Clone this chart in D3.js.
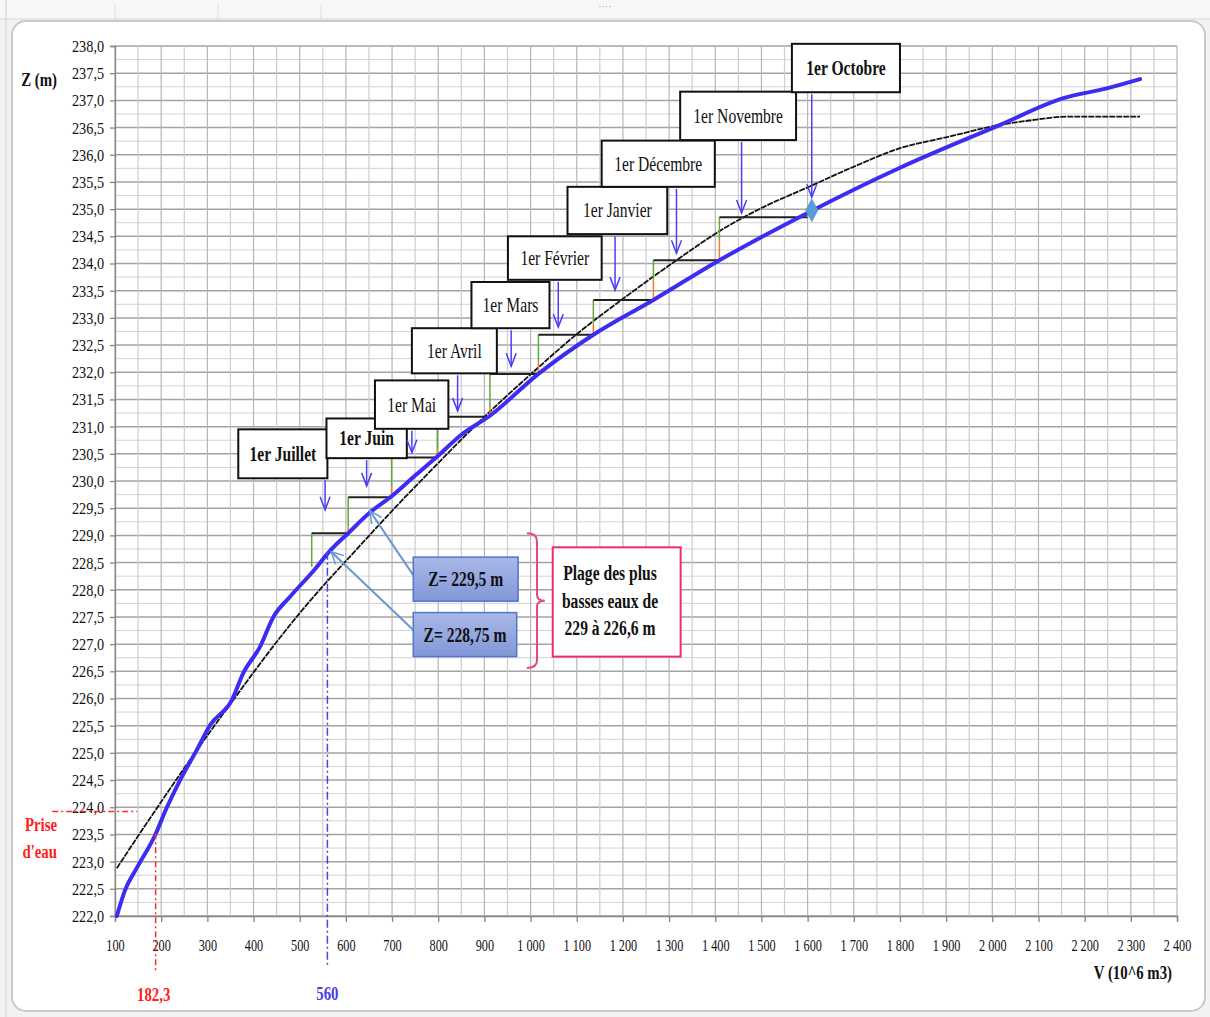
<!DOCTYPE html>
<html>
<head>
<meta charset="utf-8">
<script src="https://cdn.jsdelivr.net/npm/d3@7"></script>
<style>
  body { margin: 0; background: #f2f2f2; }
  svg { display: block; font-family: "Liberation Serif", "Times New Roman", serif; }
</style>
</head>
<body>
<svg id="chart" width="1210" height="1017"></svg>
<script>
// -----------------------
// Data
// -----------------------
// Courbe hauteur-volume (blue, thick)
const blueV = [104, 122, 147, 187, 212, 241, 277, 306, 353, 378, 414, 443, 479, 530, 566, 605, 652, 699, 750, 798, 850, 912, 1017, 1136, 1266, 1409, 1600, 1800, 2017, 2154, 2248, 2320];
const blueZ = [222.0, 222.48, 222.88, 223.49, 223.99, 224.5, 225.05, 225.51, 225.97, 226.47, 226.95, 227.5, 227.87, 228.35, 228.72, 229.04, 229.42, 229.72, 230.1, 230.45, 230.85, 231.2, 231.97, 232.69, 233.33, 234.06, 234.93, 235.76, 236.55, 237.04, 237.22, 237.39];

// Fitted curve (black, thin)
const blackV = [104, 150, 200, 250, 300, 356, 400, 450, 500, 558, 610, 700, 800, 900, 1000, 1100, 1200, 1316, 1410, 1500, 1600, 1700, 1800, 1900, 2017, 2090, 2160, 2320];
const blackZ = [222.88, 223.47, 224.1, 224.72, 225.32, 225.97, 226.48, 227.04, 227.57, 228.14, 228.62, 229.45, 230.33, 231.18, 231.96, 232.7, 233.35, 234.06, 234.6, 235.02, 235.4, 235.78, 236.12, 236.32, 236.55, 236.64, 236.7, 236.7];

// Monthly filling staircase
const stepV = [526, 605, 699, 798, 912, 1017, 1136, 1266, 1409, 1600];
const stepZ = [229.04, 229.70, 230.43, 231.18, 231.97, 232.69, 233.33, 234.06, 234.85];
const orangeDZ = [0.12, 0.2, 0.16, 0.18, 0.22, 0.21, 0.37, 0.37, 0.13];
const stepStartZ = 228.42;

const months = ["1er Juillet", "1er Juin", "1er Mai", "1er Avril", "1er Mars", "1er Février", "1er Janvier", "1er Décembre", "1er Novembre", "1er Octobre"];
const arrowV = [555, 645, 743, 842, 958, 1060, 1183, 1316, 1457, 1609];
const arrowTipZ = [229.47, 229.91, 230.52, 231.29, 232.11, 232.83, 233.51, 234.19, 234.93, 235.22];

const octobrePoint = [1609, 234.98];
const priseV = 182.3, priseZ = 223.92;
const lowV = 560;

const xTicks = d3.range(100, 2401, 100);
const yTicks = d3.range(222, 238.01, 0.5);

// Annotation boxes (data units)
const monthBoxes = [
  { v0: 367, v1: 560, zTop: 230.95, zBot: 230.05, bold: true },
  { v0: 558, v1: 732, zTop: 231.15, zBot: 230.42, bold: true },
  { v0: 663, v1: 822, zTop: 231.85, zBot: 230.96, bold: false },
  { v0: 743, v1: 927, zTop: 232.81, zBot: 231.98, bold: false },
  { v0: 872, v1: 1041, zTop: 233.66, zBot: 232.81, bold: false },
  { v0: 951, v1: 1154, zTop: 234.50, zBot: 233.70, bold: false },
  { v0: 1080, v1: 1296, zTop: 235.41, zBot: 234.54, bold: false },
  { v0: 1154, v1: 1399, zTop: 236.26, zBot: 235.41, bold: false },
  { v0: 1324, v1: 1575, zTop: 237.16, zBot: 236.27, bold: false },
  { v0: 1566, v1: 1800, zTop: 238.04, zBot: 237.15, bold: true }
];
const callouts = [
  { label: "Z= 229,5 m", v0: 746, v1: 973, zTop: 228.6, zBot: 227.79, fromZ: 228.27, tipV: 652, tipZ: 229.45 },
  { label: "Z= 228,75 m", v0: 746, v1: 970, zTop: 227.58, zBot: 226.77, fromZ: 227.26, tipV: 568, tipZ: 228.7 }
];
const plageLines = ["Plage des plus", "basses eaux de", "229 à 226,6 m"];

// -----------------------
// Setup
// -----------------------
const svg = d3.select("#chart");
const x = d3.scaleLinear().domain([100, 2400]).range([115, 1177]);
const y = d3.scaleLinear().domain([222, 238]).range([916, 46]);
const loc = d3.formatLocale({ decimal: ",", thousands: "\u00a0", grouping: [3], currency: ["", ""] });

function addText(parent, px, py, str, o = {}) {
  return parent.append("text")
    .attr("transform", `translate(${px},${py}) scale(${o.sx || 0.78},1)`)
    .attr("text-anchor", o.anchor || "middle")
    .attr("font-size", o.size || 20)
    .attr("font-weight", o.weight || "normal")
    .attr("fill", o.fill || "#111")
    .text(str);
}

// sheet background + chart frame
svg.append("rect").attr("width", 1210).attr("height", 20).attr("fill", "#f7f7f7");
svg.append("line").attr("x1", 0).attr("x2", 1210).attr("y1", 19).attr("y2", 19).attr("stroke", "#d6d6d6");
[115, 218, 321].forEach(px => svg.append("line").attr("x1", px).attr("x2", px).attr("y1", 4).attr("y2", 19).attr("stroke", "#dedede"));
svg.append("line").attr("x1", 6).attr("x2", 6).attr("y1", 0).attr("y2", 1017).attr("stroke", "#cfcfcf");
addText(svg, 605, 10, "····", { size: 10, fill: "#999", sx: 1 });
svg.append("rect").attr("x", 12).attr("y", 21).attr("width", 1193).attr("height", 990)
  .attr("rx", 14).attr("fill", "#fff").attr("stroke", "#c9c9c9").attr("stroke-width", 2);

// grid
const grid = svg.append("g");
d3.range(222, 238.01, 0.25).forEach(z => {
  const major = Math.abs(z * 2 - Math.round(z * 2)) < 1e-6;
  grid.append("line").attr("x1", x(100)).attr("x2", x(2400)).attr("y1", y(z)).attr("y2", y(z))
    .attr("stroke", major ? "#a3a3a3" : "#d3d3d3").attr("stroke-width", major ? 1.5 : 1);
});
d3.range(100, 2401, 50).forEach(v => {
  grid.append("line").attr("x1", x(v)).attr("x2", x(v)).attr("y1", y(222)).attr("y2", y(238))
    .attr("stroke", v % 100 === 0 ? "#b5b5b5" : "#cdcdcd").attr("stroke-width", 1.2);
});

// axes
const xAxis = svg.append("g").attr("transform", `translate(0,${y(222)})`)
  .call(d3.axisBottom(x).tickValues(xTicks).tickSize(6).tickFormat(loc.format(",d")));
xAxis.selectAll("text").attr("font-size", 17.5).attr("font-family", "Liberation Serif").attr("fill", "#111")
  .attr("y", 35).attr("dy", 0).attr("transform", "scale(0.7,1)");
const yAxis = svg.append("g").attr("transform", `translate(${x(100)},0)`)
  .call(d3.axisLeft(y).tickValues(yTicks).tickSize(5).tickFormat(loc.format(".1f")));
yAxis.selectAll("text").attr("font-size", 17).attr("font-family", "Liberation Serif").attr("fill", "#111")
  .attr("x", -13).attr("transform", "scale(0.84,1)");
svg.selectAll(".domain, .tick line").attr("stroke", "#858585").attr("stroke-width", 1.3);

addText(svg, 57, 86, "Z (m)", { size: 19, weight: "bold", anchor: "end" });
addText(svg, 1172, 979, "V (10^6 m3)", { size: 19, weight: "bold", anchor: "end" });

// curves
const line = d3.line().x(d => x(d[0])).y(d => y(d[1])).curve(d3.curveMonotoneX);
svg.append("path").datum(blackV.map((v, i) => [v, blackZ[i]]))
  .attr("d", line).attr("fill", "none").attr("stroke", "#111").attr("stroke-width", 1.8)
  .attr("stroke-dasharray", "6,1");

// staircase
const steps = svg.append("g");
steps.append("line").attr("x1", x(stepV[0])).attr("x2", x(stepV[0]))
  .attr("y1", y(stepStartZ)).attr("y2", y(stepZ[0])).attr("stroke", "#62a83a").attr("stroke-width", 1.5);
stepZ.forEach((z, i) => {
  steps.append("line").attr("x1", x(stepV[i])).attr("x2", x(stepV[i + 1]))
    .attr("y1", y(z)).attr("y2", y(z)).attr("stroke", "#222").attr("stroke-width", 2);
  const vx = x(stepV[i + 1]);
  const top = i + 1 < stepZ.length ? stepZ[i + 1] : null;
  if (top !== null) {
    steps.append("line").attr("x1", vx).attr("x2", vx).attr("y1", y(z + orangeDZ[i])).attr("y2", y(top))
      .attr("stroke", "#62a83a").attr("stroke-width", 1.5);
  }
  steps.append("line").attr("x1", vx).attr("x2", vx).attr("y1", y(z)).attr("y2", y(z + orangeDZ[i]))
    .attr("stroke", "#f07d2c").attr("stroke-width", 1.5);
});

svg.append("path").datum(blueV.map((v, i) => [v, blueZ[i]]))
  .attr("d", line).attr("fill", "none").attr("stroke", "#3d2cf2").attr("stroke-width", 4)
  .attr("stroke-linejoin", "round").attr("stroke-linecap", "round");

svg.append("path")
  .attr("transform", `translate(${x(octobrePoint[0])},${y(octobrePoint[1])})`)
  .attr("d", "M0,-12L6.5,0L0,12L-6.5,0Z").attr("fill", "#5b9bd5");

// markers
const defs = svg.append("defs");
function marker(id, color, len, half) {
  defs.append("marker").attr("id", id).attr("markerUnits", "userSpaceOnUse")
    .attr("viewBox", `${-len - 2} ${-half - 2} ${len + 4} ${2 * half + 4}`)
    .attr("markerWidth", len + 4).attr("markerHeight", 2 * half + 4).attr("refX", 0).attr("refY", 0)
    .attr("orient", "auto")
    .append("path").attr("d", `M${-len},${-half}L0,0L${-len},${half}`)
    .attr("fill", "none").attr("stroke", color).attr("stroke-width", 1.5);
}
marker("arrMonth", "#4c3ef4", 13, 5);
marker("arrCall", "#6d95d6", 12, 6);
const grad = defs.append("linearGradient").attr("id", "callGrad").attr("x1", 0).attr("x2", 0).attr("y1", 0).attr("y2", 1);
grad.append("stop").attr("offset", 0).attr("stop-color", "#a9b8e8");
grad.append("stop").attr("offset", 1).attr("stop-color", "#8297d8");

// Prise d'eau and 560 markers
svg.append("line").attr("x1", x(-36)).attr("x2", x(148)).attr("y1", y(priseZ)).attr("y2", y(priseZ))
  .attr("stroke", "#ff2b2b").attr("stroke-width", 1.5).attr("stroke-dasharray", "6,3,2,3");
svg.append("line").attr("x1", x(188)).attr("x2", x(188)).attr("y1", y(223.52)).attr("y2", y(220.95))
  .attr("stroke", "#ff2b2b").attr("stroke-width", 1.5).attr("stroke-dasharray", "6,3,2,3");
addText(svg, x(188) - 2, 1001, loc.format(".1f")(priseV), { size: 19, weight: "bold", fill: "#ff2020" });
addText(svg, 57, 831, "Prise", { size: 19, weight: "bold", fill: "#ff2020", anchor: "end" });
addText(svg, 57, 858, "d'eau", { size: 19, weight: "bold", fill: "#ff2020", anchor: "end" });

svg.append("line").attr("x1", x(lowV)).attr("x2", x(lowV)).attr("y1", y(228.7)).attr("y2", y(221.1))
  .attr("stroke", "#4c3ef4").attr("stroke-width", 1.5).attr("stroke-dasharray", "8,3,2,3");
addText(svg, x(lowV), 1000, String(lowV), { size: 19, weight: "bold", fill: "#4a3de6" });

// month boxes + arrows
monthBoxes.forEach((b, i) => {
  const g = svg.append("g");
  g.append("rect").attr("x", x(b.v0)).attr("y", y(b.zTop))
    .attr("width", x(b.v1) - x(b.v0)).attr("height", y(b.zBot) - y(b.zTop))
    .attr("fill", "#fff").attr("stroke", "#111").attr("stroke-width", 2);
  addText(g, (x(b.v0) + x(b.v1)) / 2, (y(b.zTop) + y(b.zBot)) / 2 + 7, months[i],
    { size: 20, weight: b.bold ? "bold" : "normal" });
});
months.forEach((m, i) => {
  svg.append("line").attr("x1", x(arrowV[i])).attr("x2", x(arrowV[i]))
    .attr("y1", y(monthBoxes[i].zBot) + 2).attr("y2", y(arrowTipZ[i]))
    .attr("stroke", "#4c3ef4").attr("stroke-width", 1.5).attr("marker-end", "url(#arrMonth)");
});

// callouts
callouts.forEach(c => {
  svg.append("line").attr("x1", x(c.v0)).attr("y1", y(c.fromZ)).attr("x2", x(c.tipV)).attr("y2", y(c.tipZ))
    .attr("stroke", "#6d95d6").attr("stroke-width", 2).attr("marker-end", "url(#arrCall)");
  svg.append("rect").attr("x", x(c.v0)).attr("y", y(c.zTop))
    .attr("width", x(c.v1) - x(c.v0)).attr("height", y(c.zBot) - y(c.zTop))
    .attr("fill", "url(#callGrad)").attr("stroke", "#4f76c8").attr("stroke-width", 1.5);
  addText(svg, (x(c.v0) + x(c.v1)) / 2, (y(c.zTop) + y(c.zBot)) / 2 + 7, c.label,
    { size: 20, weight: "bold" });
});

// bracket + plage box
const xa = x(992), xb = x(1014), xc = x(1031);
const yt = y(229.04), yb = y(226.56), ym = y(227.8);
svg.append("path")
  .attr("d", `M${xa},${yt}Q${xb},${yt} ${xb},${yt + 8}L${xb},${ym - 6}Q${xb},${ym} ${xc},${ym}` +
    `Q${xb},${ym} ${xb},${ym + 6}L${xb},${yb - 8}Q${xb},${yb} ${xa},${yb}`)
  .attr("fill", "none").attr("stroke", "#ea4580").attr("stroke-width", 2);
svg.append("rect").attr("x", x(1048)).attr("y", y(228.78))
  .attr("width", x(1325) - x(1048)).attr("height", y(226.77) - y(228.78))
  .attr("fill", "#fff").attr("stroke", "#ef2b72").attr("stroke-width", 2);
plageLines.forEach((t, i) => {
  addText(svg, 610, 580 + i * 27.5, t, { size: 20, weight: "bold" });
});
</script>
</body>
</html>
